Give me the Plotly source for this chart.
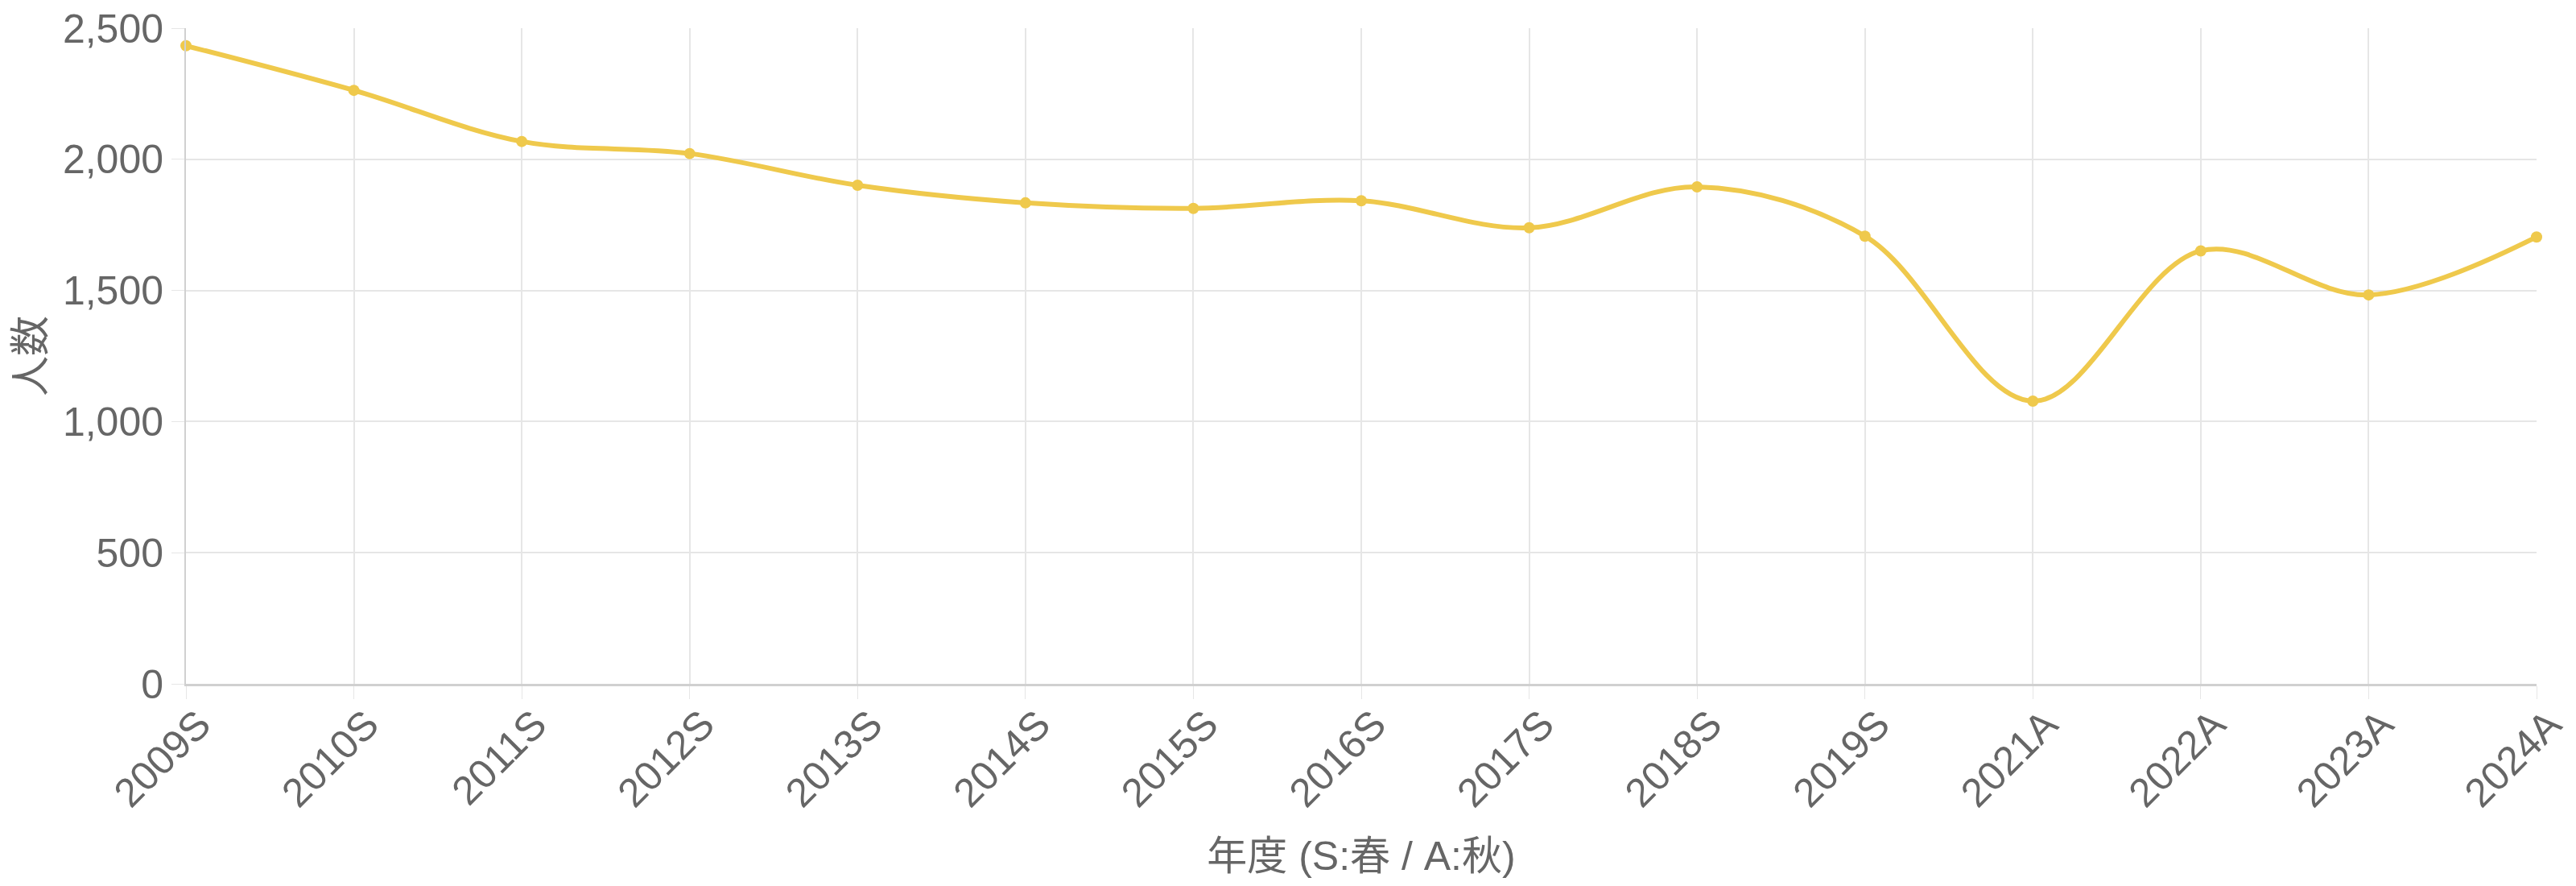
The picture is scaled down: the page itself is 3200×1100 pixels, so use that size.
import plotly.graph_objects as go

# year / term labels (S = spring, A = autumn)
terms = ["2009S", "2010S", "2011S", "2012S", "2013S", "2014S", "2015S",
         "2016S", "2017S", "2018S", "2019S", "2021A", "2022A", "2023A",
         "2024A"]
# number of people
people = [2433, 2263, 2068, 2022, 1901, 1834, 1813, 1842, 1739, 1895,
          1707, 1078, 1651, 1483, 1704]

FONT = "Liberation Sans, Arial, Noto Sans CJK JP, sans-serif"
GREY = "#666666"
GRID = "#e6e6e6"
LINE = "#efc94c"


def make_figure():
    fig = go.Figure()
    fig.add_trace(go.Scatter(
        x=terms, y=people, mode="lines+markers",
        line=dict(color=LINE, width=6, shape="spline", smoothing=1.0),
        marker=dict(color=LINE, size=14),
        cliponaxis=False, showlegend=False,
    ))
    # page body has an 8px margin, so the figure is a bit smaller
    fig.update_layout(
        width=3192, height=1092,
        margin=dict(l=223, r=49, t=27, b=251),
        paper_bgcolor="white", plot_bgcolor="white",
        font=dict(family=FONT, size=50, color=GREY),
    )
    fig.update_xaxes(
        type="category", range=[0, len(terms) - 1], automargin=False,
        tickangle=-45, ticks="outside", ticklen=16, tickcolor=GRID,
        ticklabelstandoff=-18, ticklabelshift=16,
        ticklabeloverflow="allow",
        showgrid=True, gridcolor=GRID, gridwidth=2,
        showline=True, linecolor="#d0d0d0", linewidth=3,
        tickfont=dict(size=50, color=GREY),
        title=dict(text="年度 (S:春 / A:秋)", font=dict(size=50, color=GREY),
                   standoff=34),
    )
    fig.update_yaxes(
        range=[0, 2500], dtick=500, tickformat=",", automargin=False,
        ticks="outside", ticklen=16, tickcolor=GRID,
        ticklabeloverflow="allow",
        showgrid=True, gridcolor=GRID, gridwidth=2, zeroline=False,
        showline=True, linecolor="#d0d0d0", linewidth=2,
        tickfont=dict(size=50, color=GREY),
        title=dict(text="人数", font=dict(size=50, color=GREY), standoff=6),
    )
    return fig


def main():
    fig = make_figure()
    fig.write_html("out.html")


if __name__ == "__main__":
    main()
